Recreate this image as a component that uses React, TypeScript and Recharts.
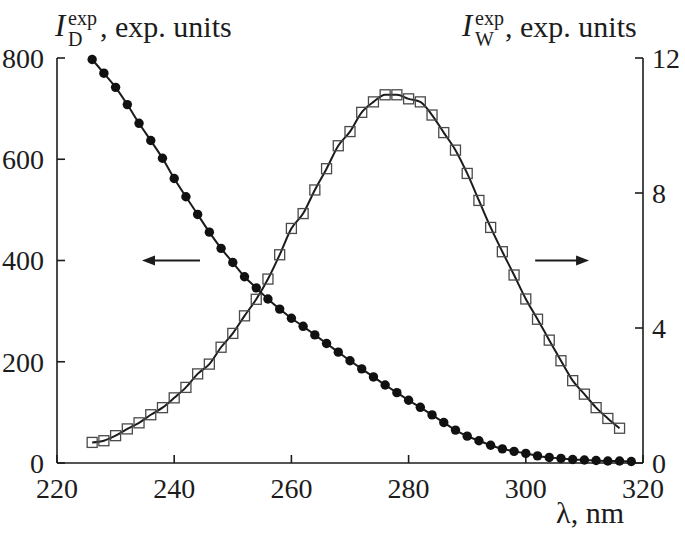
import { LineChart, Line, XAxis, YAxis, ReferenceLine } from "recharts";

// wavelength, nm
const lambda = [
  226, 228, 230, 232, 234, 236, 238, 240, 242, 244, 246, 248, 250, 252, 254, 256,
  258, 260, 262, 264, 266, 268, 270, 272, 274, 276, 278, 280, 282, 284, 286, 288,
  290, 292, 294, 296, 298, 300, 302, 304, 306, 308, 310, 312, 314, 316, 318,
];

// I_D^exp (left axis), filled circles
const intensityD = [
  797, 770, 742, 708, 671, 637, 602, 562, 526, 491, 456, 424, 396, 368, 346, 324,
  304, 286, 270, 253, 236, 219, 202, 186, 170, 154, 139, 124, 110, 95, 80, 65,
  53, 44, 35, 28, 23, 19, 14, 11, 9, 7, 6, 5, 4, 4, 3,
];

// I_W^exp (right axis), open squares; no point at 318
const intensityW = [
  0.61, 0.66, 0.81, 1.01, 1.19, 1.43, 1.64, 1.93, 2.24, 2.64, 2.93, 3.43, 3.84, 4.36,
  4.85, 5.45, 6.17, 6.95, 7.39, 8.09, 8.72, 9.4, 9.82, 10.39, 10.7, 10.91, 10.91,
  10.79, 10.7, 10.31, 9.79, 9.27, 8.58, 7.78, 6.98, 6.26, 5.57, 4.86, 4.26, 3.64,
  3.03, 2.44, 2.04, 1.64, 1.32, 1.03,
];

const xTicks = [220, 240, 260, 280, 300, 320];
const leftTicks = [0, 200, 400, 600, 800];
const rightTicks = [0, 4, 8, 12];

const data = lambda.map((x, i) => ({ x, d: intensityD[i], w: intensityW[i] }));

const FONT = "Liberation Serif";
const INK = "#1c1c1c";

const tickStyle = { fontFamily: FONT, fontSize: 28, fill: INK };

const CircleDot = (p: any) => {
  if (p.cx == null || p.cy == null) return <g key={p.key} />;
  return <circle key={p.key} cx={p.cx} cy={p.cy} r={4.7} fill="#111" />;
};

const SquareDot = (p: any) => {
  if (p.cx == null || p.cy == null || p.value == null) return <g key={p.key} />;
  return (
    <rect
      key={p.key}
      x={p.cx - 5}
      y={p.cy - 5}
      width={10}
      height={10}
      fill="none"
      stroke="#4a4a4a"
      strokeWidth={1.3}
    />
  );
};

// arrow: head at the first point of the segment
const ArrowShape = (p: any) => {
  const { x1, y1, x2, y2 } = p;
  const dir = Math.sign(x2 - x1) || 1;
  const len = 13;
  return (
    <g>
      <line x1={x1 + dir * 6} y1={y1} x2={x2} y2={y2} stroke={INK} strokeWidth={1.8} />
      <polygon
        points={`${x1},${y1} ${x1 + dir * len},${y1 - 5} ${x1 + dir * len},${y1 + 5}`}
        fill={INK}
      />
    </g>
  );
};

const LeftTitle = () => (
  <g fill={INK}>
    <text x={55} y={36} fontSize={31} fontFamily={FONT} fontStyle="italic">I</text>
    <text x={68} y={25} fontSize={20} fontFamily={FONT}>exp</text>
    <text x={68} y={46} fontSize={20} fontFamily={FONT}>D</text>
    <text x={100} y={37} fontSize={30} fontFamily={FONT}>, exp. units</text>
  </g>
);

const RightTitle = () => (
  <g fill={INK}>
    <text x={462} y={36} fontSize={31} fontFamily={FONT} fontStyle="italic">I</text>
    <text x={475} y={25} fontSize={20} fontFamily={FONT}>exp</text>
    <text x={475} y={46} fontSize={20} fontFamily={FONT}>W</text>
    <text x={505} y={37} fontSize={30} fontFamily={FONT}>, exp. units</text>
  </g>
);

const XTitle = () => (
  <text x={624} y={523} textAnchor="end" fontFamily={FONT} fontSize={30} fill={INK}>
    λ, nm
  </text>
);

export default function App() {
  return (
    <div style={{ position: "absolute", left: 0, top: 0, background: "#fff" }}>
      <LineChart
        width={685}
        height={535}
        data={data}
        margin={{ top: 58, right: 0, bottom: 0, left: 0 }}
      >
        <XAxis
          dataKey="x"
          type="number"
          domain={[220, 320]}
          ticks={xTicks}
          height={72}
          tickSize={-8}
          tickMargin={23}
          tick={tickStyle}
          axisLine={{ stroke: INK, strokeWidth: 1.6 }}
          tickLine={{ stroke: INK, strokeWidth: 1.6 }}
          label={{ content: () => <XTitle /> }}
        />
        <YAxis
          yAxisId="left"
          orientation="left"
          domain={[0, 800]}
          ticks={leftTicks}
          width={57}
          tickSize={-8}
          tickMargin={21}
          tick={tickStyle}
          axisLine={{ stroke: INK, strokeWidth: 1.6 }}
          tickLine={{ stroke: INK, strokeWidth: 1.6 }}
          label={{ content: () => <LeftTitle /> }}
        />
        <YAxis
          yAxisId="right"
          orientation="right"
          domain={[0, 12]}
          ticks={rightTicks}
          width={42}
          tickSize={-8}
          tickMargin={17}
          tick={tickStyle}
          axisLine={{ stroke: INK, strokeWidth: 1.6 }}
          tickLine={{ stroke: INK, strokeWidth: 1.6 }}
          label={{ content: () => <RightTitle /> }}
        />
        <ReferenceLine
          yAxisId="left"
          segment={[
            { x: 234.5, y: 400 },
            { x: 244.4, y: 400 },
          ]}
          shape={ArrowShape}
        />
        <ReferenceLine
          yAxisId="right"
          segment={[
            { x: 310.8, y: 6 },
            { x: 301.6, y: 6 },
          ]}
          shape={ArrowShape}
        />
        <Line
          yAxisId="right"
          dataKey="w"
          type="monotone"
          stroke={INK}
          strokeWidth={2}
          dot={SquareDot}
          activeDot={false}
          isAnimationActive={false}
        />
        <Line
          yAxisId="left"
          dataKey="d"
          type="monotone"
          stroke={INK}
          strokeWidth={2}
          dot={CircleDot}
          activeDot={false}
          isAnimationActive={false}
        />
      </LineChart>
    </div>
  );
}
